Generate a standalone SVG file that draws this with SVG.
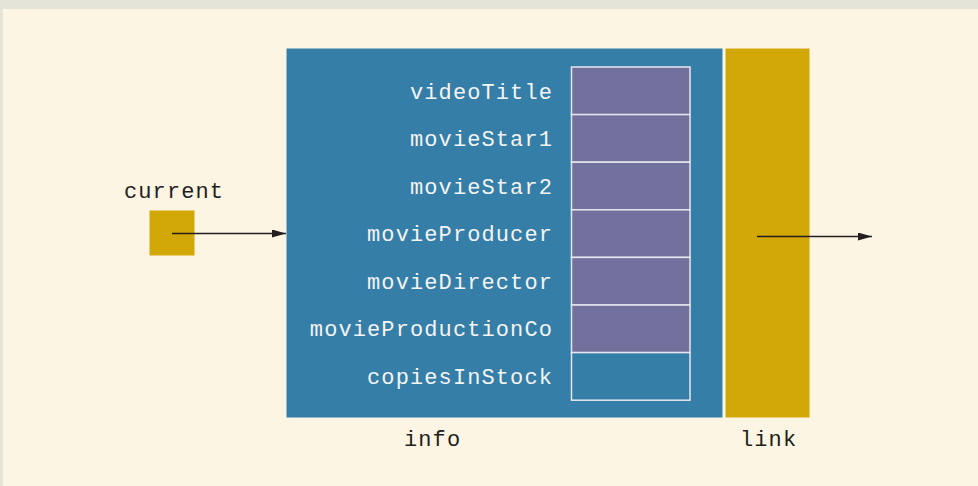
<svg xmlns="http://www.w3.org/2000/svg" width="978" height="486" viewBox="0 0 978 486">
<defs>
<marker id="ah" markerWidth="14" markerHeight="8" refX="14" refY="4" orient="auto" markerUnits="userSpaceOnUse">
<path d="M0,0 L14,4 L0,8 Z" fill="#231f20"/>
</marker>
<style>
.lbl{font-family:"Liberation Mono","Courier New",monospace;font-size:22px;letter-spacing:1.1px}
.in{fill:#f4f4f4;text-anchor:end}
.out{fill:#231f20}
.cell{fill:#72709c;stroke:#e6e6ee;stroke-width:1.5}
.cellb{fill:#357ea8;stroke:#e6e6ee;stroke-width:1.5}
.conn{stroke:#231f20;stroke-width:1.3;fill:none;marker-end:url(#ah)}
</style>
</defs>
<rect x="0" y="0" width="978" height="486" fill="#e5e4d9"/>
<rect x="3" y="9" width="975" height="477" fill="#fdf5e4"/>
<g id="current">
<text class="lbl out" x="124" y="198">current</text>
<rect x="149" y="210" width="46" height="46" fill="#d2a806" stroke="#fdf5e4" stroke-width="1"/>
</g>
<g id="info">
<rect x="286" y="48" width="437" height="370" fill="#357ea8" stroke="#fdf5e4" stroke-width="1"/>
<rect class="cell" x="571.5" y="67" width="118.5" height="47.6"/>
<rect class="cell" x="571.5" y="114.6" width="118.5" height="47.6"/>
<rect class="cell" x="571.5" y="162.2" width="118.5" height="47.6"/>
<rect class="cell" x="571.5" y="209.8" width="118.5" height="47.6"/>
<rect class="cell" x="571.5" y="257.4" width="118.5" height="47.6"/>
<rect class="cell" x="571.5" y="305" width="118.5" height="47.6"/>
<rect class="cellb" x="571.5" y="352.6" width="118.5" height="47.6"/>
<text class="lbl in" x="553" y="99">videoTitle</text>
<text class="lbl in" x="553" y="146">movieStar1</text>
<text class="lbl in" x="553" y="194">movieStar2</text>
<text class="lbl in" x="553" y="241">movieProducer</text>
<text class="lbl in" x="553" y="289">movieDirector</text>
<text class="lbl in" x="553" y="336">movieProductionCo</text>
<text class="lbl in" x="553" y="384">copiesInStock</text>
<text class="lbl out" x="404" y="446">info</text>
</g>
<g id="link">
<rect x="725" y="48" width="85" height="370" fill="#d2a806" stroke="#fdf5e4" stroke-width="1"/>
<text class="lbl out" x="740" y="446">link</text>
</g>
<g id="connectors">
<line class="conn" x1="172" y1="233.5" x2="286" y2="233.5"/>
<line class="conn" x1="757" y1="236.5" x2="872" y2="236.5"/>
</g>
</svg>
